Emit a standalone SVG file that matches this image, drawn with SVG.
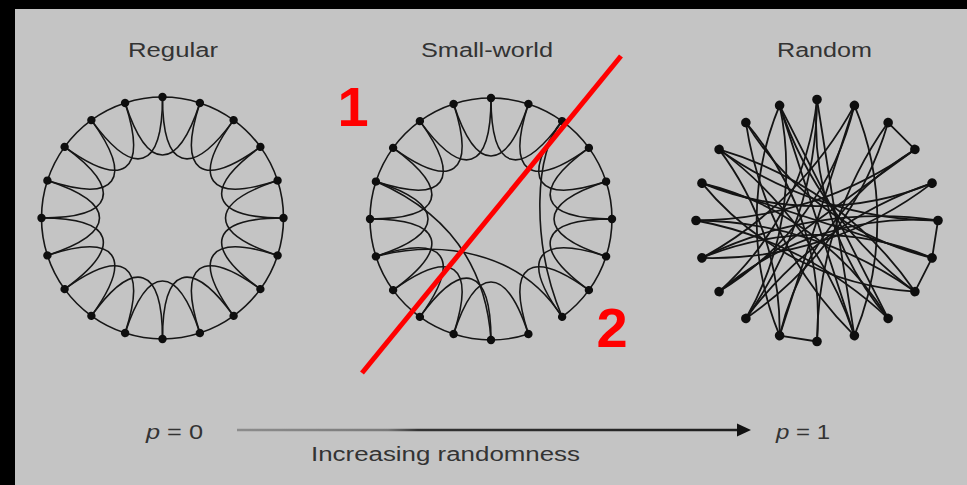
<svg xmlns="http://www.w3.org/2000/svg" width="967" height="485" viewBox="0 0 967 485">
<style>
.edge{fill:none;stroke:#161616;stroke-width:1.6;stroke-linecap:round}
.redge{fill:none;stroke:#141414;stroke-width:1.8;stroke-linecap:round}
.dot{fill:#0e0e0e}
.title{font-family:"Liberation Sans",Arial,sans-serif;font-size:20px;fill:#333}
.lab{font-family:"Liberation Sans",Arial,sans-serif;font-size:20px;fill:#333}
.big{font-family:"Liberation Sans",Arial,sans-serif;font-size:56px;font-weight:bold;fill:#ff0000}
</style>
<defs>
<path id="pair" d="M0,-121 A121,121 0 0 1 37.39,-115.08 M0,-121 C0,-48 28.21,-38.83 71.12,-97.89"/>
<circle id="dot" cx="0" cy="-121" r="4.2"/>
<circle id="rdot" cx="0" cy="-121" r="4.8"/>
<linearGradient id="ag" gradientUnits="userSpaceOnUse" x1="237" y1="0" x2="740" y2="0">
<stop offset="0" stop-color="#8c8c8c"/>
<stop offset="0.3" stop-color="#7a7a7a"/>
<stop offset="0.36" stop-color="#333"/>
<stop offset="1" stop-color="#1e1e1e"/>
</linearGradient>
</defs>
<rect x="0" y="0" width="967" height="485" fill="#000"/>
<rect x="15" y="9" width="952" height="476" fill="#c4c4c4"/>

<g id="titles">
<text class="title" x="128" y="57" textLength="90" lengthAdjust="spacingAndGlyphs">Regular</text>
<text class="title" x="421" y="57" textLength="132" lengthAdjust="spacingAndGlyphs">Small-world</text>
<text class="title" x="777" y="57" textLength="95" lengthAdjust="spacingAndGlyphs">Random</text>
</g>

<g id="connectors">
<g id="regular-edges" class="edge" transform="translate(162.5,218)">
<use href="#pair"/><use href="#pair" transform="rotate(18)"/><use href="#pair" transform="rotate(36)"/><use href="#pair" transform="rotate(54)"/><use href="#pair" transform="rotate(72)"/><use href="#pair" transform="rotate(90)"/><use href="#pair" transform="rotate(108)"/><use href="#pair" transform="rotate(126)"/><use href="#pair" transform="rotate(144)"/><use href="#pair" transform="rotate(162)"/><use href="#pair" transform="rotate(180)"/><use href="#pair" transform="rotate(198)"/><use href="#pair" transform="rotate(216)"/><use href="#pair" transform="rotate(234)"/><use href="#pair" transform="rotate(252)"/><use href="#pair" transform="rotate(270)"/><use href="#pair" transform="rotate(288)"/><use href="#pair" transform="rotate(306)"/><use href="#pair" transform="rotate(324)"/><use href="#pair" transform="rotate(342)"/>
</g>
<g id="smallworld-edges" class="edge">
<g transform="translate(491,219)">
<use href="#pair"/><use href="#pair" transform="rotate(18)"/><use href="#pair" transform="rotate(36)"/><use href="#pair" transform="rotate(54)"/><use href="#pair" transform="rotate(72)"/><use href="#pair" transform="rotate(90)"/><use href="#pair" transform="rotate(108)"/><use href="#pair" transform="rotate(126)"/><use href="#pair" transform="rotate(162)"/><use href="#pair" transform="rotate(180)"/><use href="#pair" transform="rotate(198)"/><use href="#pair" transform="rotate(216)"/><use href="#pair" transform="rotate(234)"/><use href="#pair" transform="rotate(252)"/><use href="#pair" transform="rotate(270)"/><use href="#pair" transform="rotate(288)"/><use href="#pair" transform="rotate(306)"/><use href="#pair" transform="rotate(324)"/><use href="#pair" transform="rotate(342)"/>
</g>
<path d="M375.9,256.4 C440,240 520,250 562.1,316.9"/>
<path d="M375.9,181.6 C430,205 485,250 491,340"/>
<path d="M562.1,121.1 C535,150 530,240 562.1,316.9"/>
</g>
<g id="random-edges" class="redge">
<path d="M888.1,122.6 L914.9,149.4"/>
<path d="M938,220.5 L932.1,257.9"/>
<path d="M932.1,257.9 L914.9,291.6"/>
<path d="M817,341.5 L779.6,335.6"/>
<path d="M817,99.5 L854.4,335.6"/>
<path d="M817,99.5 A380 380 0 0 1 745.9,318.4"/>
<path d="M817,99.5 A300 300 0 0 1 719.1,291.6"/>
<path d="M854.4,105.4 L779.6,335.6"/>
<path d="M854.4,105.4 A300 300 0 0 1 719.1,291.6"/>
<path d="M854.4,105.4 A380 380 0 0 1 701.9,257.9"/>
<path d="M888.1,122.6 A380 380 0 0 0 817,341.5"/>
<path d="M888.1,122.6 A360 360 0 0 1 745.9,318.4"/>
<path d="M914.9,149.4 L719.1,291.6"/>
<path d="M914.9,149.4 A380 380 0 0 1 696,220.5"/>
<path d="M932.1,183.1 A360 360 0 0 1 701.9,257.9"/>
<path d="M932.1,183.1 A300 300 0 0 1 701.9,183.1"/>
<path d="M938,220.5 A400 400 0 0 0 701.9,257.9"/>
<path d="M938,220.5 A380 380 0 0 1 719.1,149.4"/>
<path d="M932.1,257.9 L701.9,183.1"/>
<path d="M932.1,257.9 A300 300 0 0 1 745.9,122.6"/>
<path d="M914.9,291.6 A360 360 0 0 0 719.1,149.4"/>
<path d="M914.9,291.6 A380 380 0 0 1 779.6,105.4"/>
<path d="M888.1,318.4 L779.6,105.4"/>
<path d="M888.1,318.4 A300 300 0 0 0 701.9,183.1"/>
<path d="M854.4,335.6 L779.6,105.4"/>
<path d="M854.4,335.6 A380 380 0 0 0 719.1,149.4"/>
<path d="M817,341.5 A300 300 0 0 0 745.9,122.6"/>
<path d="M779.6,335.6 A300 300 0 0 0 719.1,149.4"/>
<path d="M745.9,318.4 A380 380 0 0 1 932.1,183.1"/>
<path d="M719.1,291.6 A300 300 0 0 1 938,220.5"/>
<path d="M701.9,257.9 A300 300 0 0 1 932.1,257.9"/>
<path d="M696,220.5 A380 380 0 0 1 888.1,318.4"/>
<path d="M914.9,291.6 A300 300 0 0 1 701.9,183.1"/>
<path d="M854.4,335.6 A380 380 0 0 1 745.9,122.6"/>
<path d="M745.9,318.4 A300 300 0 0 0 779.6,105.4"/>
<path d="M779.6,335.6 A300 300 0 0 1 779.6,105.4"/>
<path d="M817,99.5 A300 300 0 0 0 888.1,318.4"/>
<path d="M854.4,105.4 A300 300 0 0 1 854.4,335.6"/>
<path d="M914.9,149.4 A300 300 0 0 0 779.6,335.6"/>
<path d="M914.9,291.6 A380 380 0 0 0 696,220.5"/>
</g>
<g id="axis-arrow">
<line x1="237" y1="430" x2="740" y2="430" stroke="url(#ag)" stroke-width="2.4"/>
<polygon points="737,423.5 751,430 737,436.5" fill="#111"/>
</g>
</g>

<g id="regular-nodes" class="dot" transform="translate(162.5,218)">
<g id="reg-n0"><use href="#dot"/></g>
<g id="reg-n1"><use href="#dot" transform="rotate(18)"/></g>
<g id="reg-n2"><use href="#dot" transform="rotate(36)"/></g>
<g id="reg-n3"><use href="#dot" transform="rotate(54)"/></g>
<g id="reg-n4"><use href="#dot" transform="rotate(72)"/></g>
<g id="reg-n5"><use href="#dot" transform="rotate(90)"/></g>
<g id="reg-n6"><use href="#dot" transform="rotate(108)"/></g>
<g id="reg-n7"><use href="#dot" transform="rotate(126)"/></g>
<g id="reg-n8"><use href="#dot" transform="rotate(144)"/></g>
<g id="reg-n9"><use href="#dot" transform="rotate(162)"/></g>
<g id="reg-n10"><use href="#dot" transform="rotate(180)"/></g>
<g id="reg-n11"><use href="#dot" transform="rotate(198)"/></g>
<g id="reg-n12"><use href="#dot" transform="rotate(216)"/></g>
<g id="reg-n13"><use href="#dot" transform="rotate(234)"/></g>
<g id="reg-n14"><use href="#dot" transform="rotate(252)"/></g>
<g id="reg-n15"><use href="#dot" transform="rotate(270)"/></g>
<g id="reg-n16"><use href="#dot" transform="rotate(288)"/></g>
<g id="reg-n17"><use href="#dot" transform="rotate(306)"/></g>
<g id="reg-n18"><use href="#dot" transform="rotate(324)"/></g>
<g id="reg-n19"><use href="#dot" transform="rotate(342)"/></g>
</g>

<g id="smallworld-nodes" class="dot" transform="translate(491,219)">
<g id="sw-n0"><use href="#dot"/></g>
<g id="sw-n1"><use href="#dot" transform="rotate(18)"/></g>
<g id="sw-n2"><use href="#dot" transform="rotate(36)"/></g>
<g id="sw-n3"><use href="#dot" transform="rotate(54)"/></g>
<g id="sw-n4"><use href="#dot" transform="rotate(72)"/></g>
<g id="sw-n5"><use href="#dot" transform="rotate(90)"/></g>
<g id="sw-n6"><use href="#dot" transform="rotate(108)"/></g>
<g id="sw-n7"><use href="#dot" transform="rotate(126)"/></g>
<g id="sw-n8"><use href="#dot" transform="rotate(144)"/></g>
<g id="sw-n9"><use href="#dot" transform="rotate(162)"/></g>
<g id="sw-n10"><use href="#dot" transform="rotate(180)"/></g>
<g id="sw-n11"><use href="#dot" transform="rotate(198)"/></g>
<g id="sw-n12"><use href="#dot" transform="rotate(216)"/></g>
<g id="sw-n13"><use href="#dot" transform="rotate(234)"/></g>
<g id="sw-n14"><use href="#dot" transform="rotate(252)"/></g>
<g id="sw-n15"><use href="#dot" transform="rotate(270)"/></g>
<g id="sw-n16"><use href="#dot" transform="rotate(288)"/></g>
<g id="sw-n17"><use href="#dot" transform="rotate(306)"/></g>
<g id="sw-n18"><use href="#dot" transform="rotate(324)"/></g>
<g id="sw-n19"><use href="#dot" transform="rotate(342)"/></g>
</g>

<g id="random-nodes" class="dot" transform="translate(817,220.5)">
<g id="rnd-n0"><use href="#rdot"/></g>
<g id="rnd-n1"><use href="#rdot" transform="rotate(18)"/></g>
<g id="rnd-n2"><use href="#rdot" transform="rotate(36)"/></g>
<g id="rnd-n3"><use href="#rdot" transform="rotate(54)"/></g>
<g id="rnd-n4"><use href="#rdot" transform="rotate(72)"/></g>
<g id="rnd-n5"><use href="#rdot" transform="rotate(90)"/></g>
<g id="rnd-n6"><use href="#rdot" transform="rotate(108)"/></g>
<g id="rnd-n7"><use href="#rdot" transform="rotate(126)"/></g>
<g id="rnd-n8"><use href="#rdot" transform="rotate(144)"/></g>
<g id="rnd-n9"><use href="#rdot" transform="rotate(162)"/></g>
<g id="rnd-n10"><use href="#rdot" transform="rotate(180)"/></g>
<g id="rnd-n11"><use href="#rdot" transform="rotate(198)"/></g>
<g id="rnd-n12"><use href="#rdot" transform="rotate(216)"/></g>
<g id="rnd-n13"><use href="#rdot" transform="rotate(234)"/></g>
<g id="rnd-n14"><use href="#rdot" transform="rotate(252)"/></g>
<g id="rnd-n15"><use href="#rdot" transform="rotate(270)"/></g>
<g id="rnd-n16"><use href="#rdot" transform="rotate(288)"/></g>
<g id="rnd-n17"><use href="#rdot" transform="rotate(306)"/></g>
<g id="rnd-n18"><use href="#rdot" transform="rotate(324)"/></g>
<g id="rnd-n19"><use href="#rdot" transform="rotate(342)"/></g>
</g>

<g id="annotations">
<line x1="621" y1="56" x2="362" y2="373" stroke="#ff0000" stroke-width="5"/>
<text class="big" x="353" y="126" text-anchor="middle">1</text>
<text class="big" x="612" y="347" text-anchor="middle">2</text>
</g>

<g id="axis-labels">
<text class="lab" x="146" y="439" textLength="57" lengthAdjust="spacingAndGlyphs"><tspan font-style="italic">p</tspan> = 0</text>
<text class="lab" x="776" y="439" textLength="54" lengthAdjust="spacingAndGlyphs"><tspan font-style="italic">p</tspan> = 1</text>
<text class="lab" x="311" y="461" textLength="269" lengthAdjust="spacingAndGlyphs">Increasing randomness</text>
</g>
</svg>
